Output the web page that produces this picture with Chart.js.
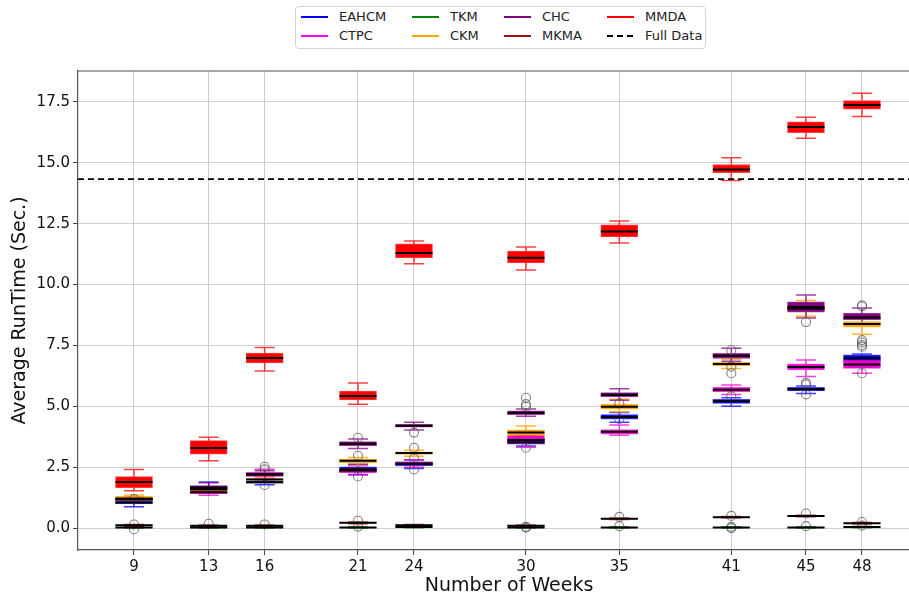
<!DOCTYPE html>
<html>
<head>
<meta charset="utf-8">
<script src="https://cdn.jsdelivr.net/npm/chart.js@4.4.0/dist/chart.umd.min.js"></script>
<style>
  body { margin: 0; background: #fff; overflow: hidden; }
  #wrap { position: relative; width: 909px; height: 598px; overflow: hidden; }
  #legend {
    position: absolute; left: 295px; top: 6px; width: 409px; height: 41px;
    border: 1px solid #d4d4d4; border-radius: 4px; background: #fff;
    font-family: 'DejaVu Sans', sans-serif; font-size: 13px; color: #222;
  }
  .item { position: absolute; height: 16px; line-height: 16px; white-space: nowrap; }
  .swatch { position: absolute; left: 0; top: 7px; width: 27px; height: 2px; }
  .item span { position: absolute; left: 38px; top: 0; }
</style>
</head>
<body>
<div id="wrap">
  <canvas id="chart" width="940" height="598"></canvas>
  <div id="legend"></div>
</div>
<script>
// Data
const weeks = [9, 13, 16, 21, 24, 30, 35, 41, 45, 48];
const methods = ['EAHCM', 'CTPC', 'TKM', 'CKM', 'CHC', 'MKMA', 'MMDA'];
const fullDataRuntime = 14.33;
const yTicks = [0, 2.5, 5, 7.5, 10, 12.5, 15, 17.5];

// each row: [lowWhisker, q1, median, q3, highWhisker] for one week
const eahcm = [
  [0.88, 0.99, 1.05, 1.11, 1.20], [1.45, 1.58, 1.65, 1.72, 1.89], [1.78, 1.84, 1.88, 1.92, 2.00],
  [2.20, 2.31, 2.42, 2.52, 2.62], [2.45, 2.55, 2.63, 2.72, 2.80], [3.37, 3.45, 3.52, 3.69, 3.80],
  [4.35, 4.47, 4.56, 4.66, 4.75], [5.00, 5.12, 5.21, 5.29, 5.35], [5.53, 5.63, 5.70, 5.78, 5.83],
  [6.60, 6.83, 6.97, 7.11, 7.15]
];
const ctpc = [
  [1.05, 1.12, 1.17, 1.22, 1.28], [1.35, 1.40, 1.47, 1.53, 1.60], [2.05, 2.12, 2.22, 2.30, 2.42],
  [2.18, 2.27, 2.36, 2.46, 2.58], [2.50, 2.58, 2.65, 2.72, 2.80], [3.32, 3.48, 3.62, 3.81, 4.00],
  [3.81, 3.86, 3.96, 4.05, 4.23], [5.49, 5.59, 5.68, 5.78, 5.88], [6.22, 6.49, 6.61, 6.74, 6.90],
  [6.36, 6.56, 6.72, 6.90, 7.00]
];
const tkm = [
  [0.00, 0.01, 0.02, 0.03, 0.05], [0.00, 0.01, 0.02, 0.03, 0.05], [0.00, 0.01, 0.02, 0.03, 0.05],
  [0.00, 0.01, 0.02, 0.03, 0.05], [0.01, 0.03, 0.04, 0.05, 0.07], [0.00, 0.01, 0.02, 0.03, 0.05],
  [0.00, 0.01, 0.02, 0.03, 0.05], [0.00, 0.01, 0.02, 0.03, 0.05], [0.00, 0.01, 0.02, 0.03, 0.05],
  [0.01, 0.03, 0.04, 0.05, 0.07]
];
const ckm = [
  [1.05, 1.13, 1.20, 1.30, 1.36], [1.45, 1.52, 1.58, 1.64, 1.70], [1.90, 1.97, 2.00, 2.05, 2.12],
  [2.55, 2.68, 2.77, 2.83, 2.90], [2.95, 3.03, 3.08, 3.13, 3.20], [3.60, 3.81, 3.93, 4.03, 4.19],
  [4.78, 4.88, 4.98, 5.09, 5.29], [6.55, 6.66, 6.74, 6.81, 6.93], [8.70, 8.92, 9.02, 9.15, 9.35],
  [7.96, 8.25, 8.38, 8.48, 8.62]
];
const chc = [
  [1.14, 1.18, 1.20, 1.22, 1.26], [1.45, 1.58, 1.67, 1.75, 1.86], [2.00, 2.13, 2.20, 2.25, 2.35],
  [3.27, 3.37, 3.46, 3.55, 3.66], [4.03, 4.14, 4.20, 4.26, 4.35], [4.59, 4.66, 4.74, 4.81, 4.89],
  [5.25, 5.39, 5.48, 5.56, 5.72], [6.85, 6.97, 7.08, 7.18, 7.38], [8.63, 8.87, 9.08, 9.29, 9.57],
  [8.40, 8.55, 8.65, 8.83, 9.04]
];
const mkma = [
  [0.08, 0.10, 0.12, 0.13, 0.15], [0.07, 0.09, 0.10, 0.11, 0.13], [0.07, 0.09, 0.10, 0.11, 0.13],
  [0.18, 0.20, 0.22, 0.23, 0.25], [0.09, 0.11, 0.12, 0.13, 0.15], [0.07, 0.09, 0.10, 0.11, 0.13],
  [0.35, 0.37, 0.38, 0.39, 0.41], [0.42, 0.44, 0.45, 0.46, 0.48], [0.47, 0.49, 0.50, 0.51, 0.53],
  [0.17, 0.19, 0.20, 0.21, 0.23]
];
const mmda = [
  [1.53, 1.66, 1.89, 2.11, 2.41], [2.77, 3.04, 3.29, 3.59, 3.73], [6.45, 6.78, 6.98, 7.19, 7.42],
  [5.09, 5.26, 5.42, 5.63, 5.96], [10.85, 11.09, 11.30, 11.67, 11.79], [10.60, 10.89, 11.10, 11.38, 11.54],
  [11.71, 11.96, 12.18, 12.45, 12.61], [14.27, 14.60, 14.72, 14.93, 15.21], [16.01, 16.24, 16.47, 16.68, 16.87],
  [16.90, 17.20, 17.37, 17.56, 17.86]
];

// outliers: [week, value]
const eahcmFliers = [[16, 1.77], [21, 2.12], [24, 2.41], [35, 4.48], [41, 5.42], [45, 5.97], [45, 5.90], [45, 5.49]];
const ctpcFliers = [[30, 3.30], [48, 6.36]];
const tkmFliers = [[9, -0.05], [21, 0.06], [30, 0.05], [30, 0.02], [35, 0.08], [41, 0.05], [41, 0.0], [45, 0.08], [48, 0.10]];
const ckmFliers = [[9, 1.19], [21, 2.97], [24, 3.30], [24, 2.86], [35, 5.12], [41, 6.63], [41, 6.36], [48, 7.72], [48, 7.62], [48, 7.52], [48, 7.45]];
const chcFliers = [[16, 2.52], [16, 2.41], [21, 3.71], [24, 3.92], [30, 5.35], [30, 5.09], [30, 4.98], [41, 7.31], [45, 8.46], [48, 9.15], [48, 9.10]];
const mkmaFliers = [[9, 0.15], [13, 0.18], [16, 0.15], [21, 0.30], [35, 0.46], [41, 0.50], [45, 0.60], [48, 0.25]];

const stats = [eahcm, ctpc, tkm, ckm, chc, mkma, mmda];
const fliers = [eahcmFliers, ctpcFliers, tkmFliers, ckmFliers, chcFliers, mkmaFliers, []];

// styles
const boxColors = ['#0000e0', '#ee00cc', '#008000', '#ffa500', '#800080', '#a01010', '#ff0000'];
const lineColors = ['rgba(0,0,255,0.75)', 'rgba(238,0,204,0.75)', 'rgba(0,128,0,0.75)', 'rgba(255,165,0,0.8)',
                    'rgba(128,0,128,0.75)', 'rgba(160,16,16,0.75)', 'rgba(255,0,0,0.75)'];
const legendColors = ['#0000ff', '#ff00ff', '#008000', '#ffa500', '#800080', '#a01010', '#ff0000'];
// plot spans 78px..940px on a wider canvas; the right frame falls outside the window
const xMin = 6, xMax = 52.18;
const boxWidth = 37, capHalf = 10;

// Datasets
const boxDatasets = methods.map((name, k) => ({
  type: 'bar',
  label: name,
  data: weeks.map((w, i) => ({ x: w, y: [stats[k][i][1], stats[k][i][3]] })),
  backgroundColor: boxColors[k],
  borderColor: lineColors[k],
  borderWidth: 1,
  borderSkipped: false,
  grouped: false,
  categoryPercentage: 1,
  barPercentage: 1,
  maxBarThickness: boxWidth,
  order: 20 - k
}));

const flierDataset = {
  type: 'scatter',
  label: 'outliers',
  data: fliers.flat().map(([x, y]) => ({ x, y })),
  pointRadius: 4.5,
  pointBorderWidth: 1.1,
  pointBorderColor: 'rgba(90,90,90,0.75)',
  pointBackgroundColor: 'rgba(0,0,0,0)',
  order: 2
};

const fullDataset = {
  type: 'line',
  label: 'Full Data',
  data: [{ x: xMin, y: fullDataRuntime }, { x: xMax, y: fullDataRuntime }],
  borderColor: '#000',
  borderWidth: 1.6,
  borderDash: [6, 4],
  pointRadius: 0,
  order: 1
};

// whiskers + caps under the boxes, medians on top
const boxplotPlugin = {
  id: 'boxplot',
  beforeDatasetsDraw(chart) {
    const { ctx, scales: { x, y } } = chart;
    ctx.save();
    ctx.lineWidth = 1.5;
    stats.forEach((rows, k) => {
      ctx.strokeStyle = lineColors[k];
      rows.forEach(([lo, q1, , q3, hi], i) => {
        const px = x.getPixelForValue(weeks[i]);
        const yLo = y.getPixelForValue(lo), yHi = y.getPixelForValue(hi);
        ctx.beginPath();
        ctx.moveTo(px, yLo); ctx.lineTo(px, y.getPixelForValue(q1));
        ctx.moveTo(px, y.getPixelForValue(q3)); ctx.lineTo(px, yHi);
        ctx.moveTo(px - capHalf, yLo); ctx.lineTo(px + capHalf, yLo);
        ctx.moveTo(px - capHalf, yHi); ctx.lineTo(px + capHalf, yHi);
        ctx.stroke();
      });
    });
    ctx.restore();
  },
  afterDatasetsDraw(chart) {
    const { ctx, scales: { y }, chartArea } = chart;
    ctx.save();
    ctx.strokeStyle = '#000';
    ctx.lineWidth = 2;
    stats.forEach((rows, k) => {
      const meta = chart.getDatasetMeta(k);
      rows.forEach((r, i) => {
        const bar = meta.data[i];
        const py = y.getPixelForValue(r[2]);
        ctx.beginPath();
        ctx.moveTo(bar.x - bar.width / 2, py);
        ctx.lineTo(bar.x + bar.width / 2, py);
        ctx.stroke();
      });
    });
    // top frame
    ctx.strokeStyle = '#555';
    ctx.lineWidth = 1.2;
    ctx.beginPath();
    ctx.moveTo(chartArea.left, chartArea.top);
    ctx.lineTo(chartArea.right, chartArea.top);
    ctx.stroke();
    ctx.restore();
  }
};

new Chart(document.getElementById('chart'), {
  type: 'bar',
  data: { datasets: [...boxDatasets, flierDataset, fullDataset] },
  options: {
    responsive: false,
    animation: false,
    devicePixelRatio: 1,
    layout: { autoPadding: false, padding: { top: 71, right: 0, left: 0, bottom: 0 } },
    plugins: {
      legend: { display: false },
      tooltip: { enabled: false }
    },
    scales: {
      x: {
        type: 'linear',
        min: xMin,
        max: xMax,
        offset: false,
        afterBuildTicks: (s) => { s.ticks = weeks.map(v => ({ value: v })); },
        afterFit: (s) => { s.height = 48; },
        grid: { color: '#cfcfcf', offset: false, tickLength: 5, tickColor: '#444' },
        border: { color: '#555', width: 1.2 },
        ticks: { color: '#111', font: { family: 'DejaVu Sans', size: 15 }, padding: 3, maxRotation: 0, callback: v => String(v) },
        title: { display: true, text: 'Number of Weeks', color: '#111', font: { family: 'DejaVu Sans', size: 19 }, padding: { top: 2, bottom: 1 } }
      },
      y: {
        min: -0.9,
        max: 18.77,
        stacked: false,
        afterBuildTicks: (s) => { s.ticks = yTicks.map(v => ({ value: v })); },
        afterFit: (s) => { s.width = 78; },
        grid: { color: '#cfcfcf', tickLength: 5, tickColor: '#444' },
        border: { color: '#555', width: 1.2 },
        ticks: { color: '#111', font: { family: 'DejaVu Sans', size: 15 }, padding: 3, callback: v => v.toFixed(1) },
        title: { display: true, text: 'Average RunTime (Sec.)', color: '#111', font: { family: 'DejaVu Sans', size: 19 }, padding: { top: 9, bottom: 4 } }
      }
    }
  },
  plugins: [boxplotPlugin]
});

// HTML legend, column-major like the original
const legendItems = methods.map((name, k) => ({ name, color: legendColors[k], dashed: false }))
  .concat([{ name: 'Full Data', color: '#000', dashed: true }]);
const colX = [5, 116, 208, 311];
const rowY = [2, 21];
const legend = document.getElementById('legend');
legendItems.forEach((it, idx) => {
  const col = Math.floor(idx / 2), row = idx % 2;
  const div = document.createElement('div');
  div.className = 'item';
  div.style.left = colX[col] + 'px';
  div.style.top = rowY[row] + 'px';
  const sw = document.createElement('div');
  sw.className = 'swatch';
  sw.style.background = it.dashed
    ? 'repeating-linear-gradient(90deg, #000 0 6px, transparent 6px 10px)'
    : it.color;
  const label = document.createElement('span');
  label.textContent = it.name;
  div.appendChild(sw);
  div.appendChild(label);
  legend.appendChild(div);
});
</script>
</body>
</html>
